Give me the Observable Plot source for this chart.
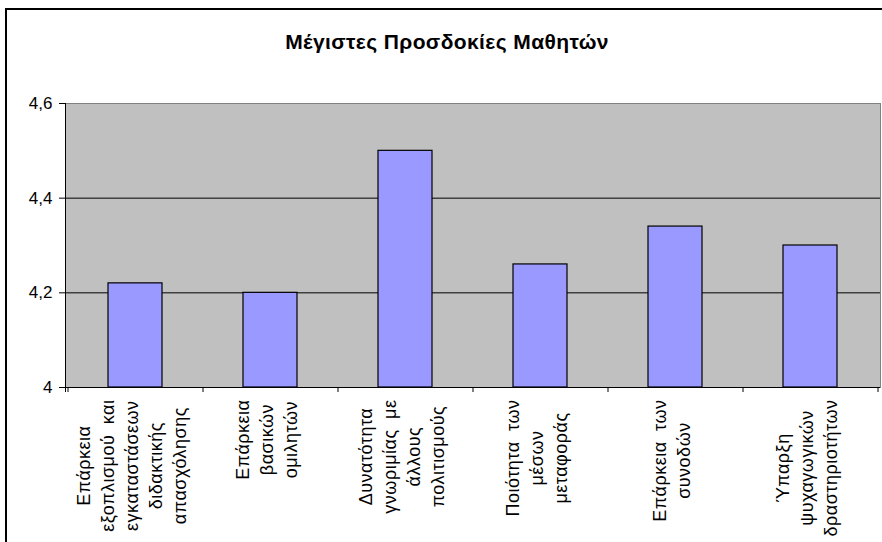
<!DOCTYPE html>
<html>
<head>
<meta charset="utf-8">
<script src="https://cdn.jsdelivr.net/npm/d3@7"></script>
<script src="https://cdn.jsdelivr.net/npm/@observablehq/plot@0.6"></script>
<style>
  html, body { margin: 0; padding: 0; background: #fff; overflow: hidden; }
  #chart { position: relative; width: 882px; height: 542px; font-family: 'Liberation Sans', Arial, sans-serif; }
  #frame { position: absolute; left: 5px; top: 8px; width: 900px; height: 560px; border: 2px solid #000; box-sizing: border-box; pointer-events: none; }
  #title { position: absolute; left: 0; top: 32px; width: 894px; text-align: center; font: bold 21px 'Liberation Sans', Arial, sans-serif; letter-spacing: 0.4px; line-height: 20px; color: #000; }
  #plot, #probe { position: absolute; left: 0; top: 60px; }
  #probe { visibility: hidden; }
  svg g[aria-label="text"] text { letter-spacing: 0.5px; word-spacing: 5px; }
</style>
</head>
<body>
<div id="chart">
  <div id="title"></div>
  <div id="probe"></div>
  <div id="plot"></div>
  <div id="frame"></div>
</div>
<script>
const title = "Μέγιστες Προσδοκίες Μαθητών";
const categories = [
  "Επάρκεια\nεξοπλισμού και\nεγκαταστάσεων\nδιδακτικής\nαπασχόλησης",
  "Επάρκεια\nβασικών\nομιλητών",
  "Δυνατότητα\nγνωριμίας με\nάλλους\nπολιτισμούς",
  "Ποιότητα των\nμέσων\nμεταφοράς",
  "Επάρκεια των\nσυνοδών",
  "Ύπαρξη\nψυχαγωγικών\nδραστηριοτήτων"
];
const values = [4.22, 4.20, 4.50, 4.26, 4.34, 4.30];
const yTicks = [4, 4.2, 4.4, 4.6];

document.getElementById("title").textContent = title;

const data = categories.map((c, i) => ({cat: c, value: values[i]}));
const baseline = yTicks[0];

function axisLines(index, scales, values, dims) {
  const x = scales.x;
  const step = x(categories[1]) - x(categories[0]);
  const left = dims.marginLeft;
  const top = dims.marginTop;
  const bottom = dims.height - dims.marginBottom;
  const g = d3.create("svg:g").attr("stroke", "#000").attr("stroke-width", 1);
  g.append("line").attr("x1", left + 0.5).attr("x2", left + 0.5).attr("y1", top).attr("y2", bottom + 5);
  const bounds = categories.map(c => x(c) - 0.3 * step);
  bounds.push(bounds[bounds.length - 1] + step);
  bounds.forEach(b => {
    g.append("line").attr("x1", b + 0.5).attr("x2", b + 0.5).attr("y1", bottom).attr("y2", bottom + 5);
  });
  return g.node();
}

function makeChart(dys) {
  const labelMarks = categories.map((c, i) => Plot.text([c], {
    x: d => d,
    text: d => d,
    frameAnchor: "bottom",
    dx: -5,
    dy: dys[i],
    rotate: -90,
    textAnchor: "middle",
    lineAnchor: "middle",
    lineHeight: 24 / 18,
    fontSize: 18,
    fill: "#000"
  }));
  return Plot.plot({
    width: 882,
    height: 482,
    marginTop: 43,
    marginBottom: 155,
    marginLeft: 65,
    marginRight: 2,
    style: {fontFamily: "'Liberation Sans', Arial, sans-serif", fontSize: "17px", background: "transparent", color: "#000", overflow: "visible"},
    x: {type: "band", domain: categories, paddingInner: 0.6, paddingOuter: 0.3, axis: null},
    y: {domain: [yTicks[0], yTicks[yTicks.length - 1]]},
    marks: [
      Plot.frame({fill: "#C0C0C0", stroke: "#808080"}),
      Plot.ruleY(yTicks.slice(1, -1), {stroke: "#000", strokeWidth: 1}),
      Plot.barY(data, {x: "cat", y1: () => baseline, y2: "value", fill: "#9999FF", stroke: "#000", strokeWidth: 1.2}),
      Plot.ruleY([baseline], {stroke: "#000", strokeWidth: 1}),
      Plot.axisY({ticks: yTicks, tickSize: 6, tickPadding: 7, tickFormat: d => String(d).replace(".", ","), label: null, fontSize: 17}),
      axisLines,
      ...labelMarks
    ]
  });
}

// first pass: measure the rendered length of each rotated label block
const probeHost = document.getElementById("probe");
const probe = makeChart(categories.map(() => 0));
probeHost.appendChild(probe);
const lens = Array.from(probe.querySelectorAll('g[aria-label="text"]')).map(g => g.getBoundingClientRect().height);
probeHost.remove();

const chart = makeChart(categories.map((c, i) => 12 + (lens[i] || 100) / 2));
document.getElementById("plot").appendChild(chart);
</script>
</body>
</html>
